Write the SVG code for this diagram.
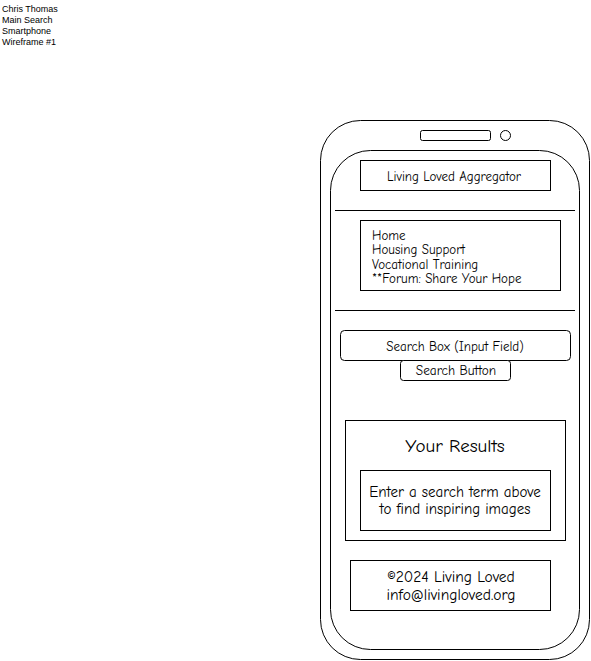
<svg xmlns="http://www.w3.org/2000/svg" width="591" height="661" viewBox="0 0 591 661">
<style>
.s{fill:#fff;stroke:#000;stroke-width:1}
.n{fill:none;stroke:#000;stroke-width:1}
.t{font-family:"Comic Sans MS","Comic Neue","DejaVu Sans",sans-serif;fill:#000}
.c{text-anchor:middle}
.m{font-family:"Liberation Sans",Arial,sans-serif;font-size:9px;fill:#000}
</style>
<rect width="591" height="661" fill="#fff"/>
<g id="label">
<text class="m" x="2" y="12">Chris Thomas</text>
<text class="m" x="2" y="23">Main Search</text>
<text class="m" x="2" y="34">Smartphone</text>
<text class="m" x="2" y="45">Wireframe #1</text>
</g>
<g id="phone">
<rect class="s" x="320.5" y="120.5" width="269" height="539" rx="40"/>
<rect class="n" x="330.5" y="150.5" width="249" height="499" rx="40"/>
<rect class="n" x="420.5" y="130.5" width="70" height="10" rx="2"/>
<circle class="n" cx="505.5" cy="135.5" r="5"/>
</g>
<g id="connectors">
<line class="n" x1="335" y1="210.5" x2="575" y2="210.5"/>
<line class="n" x1="335" y1="310.5" x2="575" y2="310.5"/>
</g>
<g id="header">
<rect class="s" x="360.5" y="160.5" width="190" height="30"/>
<text class="t c" x="454" y="181" font-size="13">Living Loved Aggregator</text>
</g>
<g id="nav">
<rect class="s" x="360.5" y="220.5" width="200" height="70"/>
<text class="t" x="372" y="240" font-size="13">Home</text>
<text class="t" x="372" y="254" font-size="13">Housing Support</text>
<text class="t" x="372" y="269" font-size="13">Vocational Training</text>
<text class="t" x="372" y="283" font-size="13">**Forum: Share Your Hope</text>
</g>
<g id="searchbox">
<rect class="s" x="340.5" y="330.5" width="230" height="30" rx="4"/>
<text class="t c" x="455" y="351" font-size="13">Search Box (Input Field)</text>
</g>
<g id="searchbutton">
<rect class="s" x="400.5" y="360.5" width="110" height="20" rx="3"/>
<text class="t c" x="456" y="375" font-size="13.3">Search Button</text>
</g>
<g id="results">
<rect class="s" x="345.5" y="420.5" width="220" height="120"/>
<text class="t c" x="455" y="452" font-size="19">Your Results</text>
</g>
<g id="resultsinner">
<rect class="s" x="360.5" y="470.5" width="190" height="60"/>
<text class="t c" x="455" y="497" font-size="15">Enter a search term above</text>
<text class="t c" x="455" y="514" font-size="15">to find inspiring images</text>
</g>
<g id="footer">
<rect class="s" x="350.5" y="560.5" width="200" height="50"/>
<text class="t c" x="451" y="582" font-size="15.5">©2024 Living Loved</text>
<text class="t c" x="451" y="600" font-size="15.5">info@livingloved.org</text>
</g>
</svg>
